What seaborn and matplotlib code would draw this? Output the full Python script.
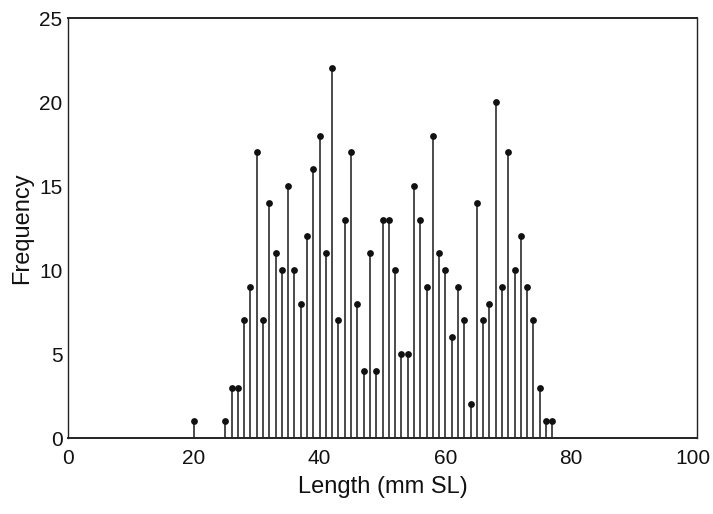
import matplotlib
matplotlib.use("Agg")
import matplotlib.pyplot as plt
import matplotlib.transforms as mtrans
import seaborn as sns
import pandas as pd

lengths = [20, 25, 26, 27, 28, 29, 30, 31, 32, 33, 34, 35, 36, 37, 38, 39, 40,
           41, 42, 43, 44, 45, 46, 47, 48, 49, 50, 51, 52, 53, 54, 55, 56, 57,
           58, 59, 60, 61, 62, 63, 64, 65, 66, 67, 68, 69, 70, 71, 72, 73, 74,
           75, 76, 77]
frequency = [1, 1, 3, 3, 7, 9, 17, 7, 14, 11, 10, 15, 10, 8, 12, 16, 18,
             11, 22, 7, 13, 17, 8, 4, 11, 4, 13, 13, 10, 5, 5, 15, 13, 9,
             18, 11, 10, 6, 9, 7, 2, 14, 7, 8, 20, 9, 17, 10, 12, 9, 7,
             3, 1, 1]
x_ticks = [0, 20, 40, 60, 80, 100]
y_ticks = [0, 5, 10, 15, 20, 25]

df = pd.DataFrame({"Length": lengths, "Frequency": frequency})

sns.set_style("white")
plt.rcParams['font.family'] = ['Liberation Sans', 'DejaVu Sans']

fig = plt.figure(figsize=(7.13, 5.14), dpi=100)
ax = fig.add_axes([68/713, 1 - 438/514, (697 - 68)/713, (438 - 18)/514])

ax.vlines(df["Length"], 0, df["Frequency"], color="#1a1a1a", linewidth=1.1, zorder=2)
sns.scatterplot(data=df, x="Length", y="Frequency", ax=ax, color="#111111",
                s=24, edgecolor="#111111", linewidth=0, zorder=3, legend=False)

ax.set_xlim(0, 100)
ax.set_ylim(0, 25)
ax.set_xticks(x_ticks)
ax.set_yticks(y_ticks)
ax.tick_params(axis="both", length=0, labelsize=15, colors="#111111")
ax.tick_params(axis="x", pad=8)
ax.tick_params(axis="y", pad=4)
for s in ax.spines.values():
    s.set_color("#222222")
    s.set_linewidth(1.0)
ax.spines["bottom"].set_linewidth(1.4)
ax.spines["top"].set_linewidth(1.4)

# nudge the last x tick label so it stays inside the figure
last = ax.get_xticklabels()[-1]
last.set_transform(last.get_transform() +
                   mtrans.ScaledTranslation(-4/100, 0, fig.dpi_scale_trans))

ax.set_xlabel("Length (mm SL)", fontsize=17, color="#111111", labelpad=6)
ax.set_ylabel("Frequency", fontsize=17, color="#111111", labelpad=4)

fig.savefig("out.png", dpi=100)
